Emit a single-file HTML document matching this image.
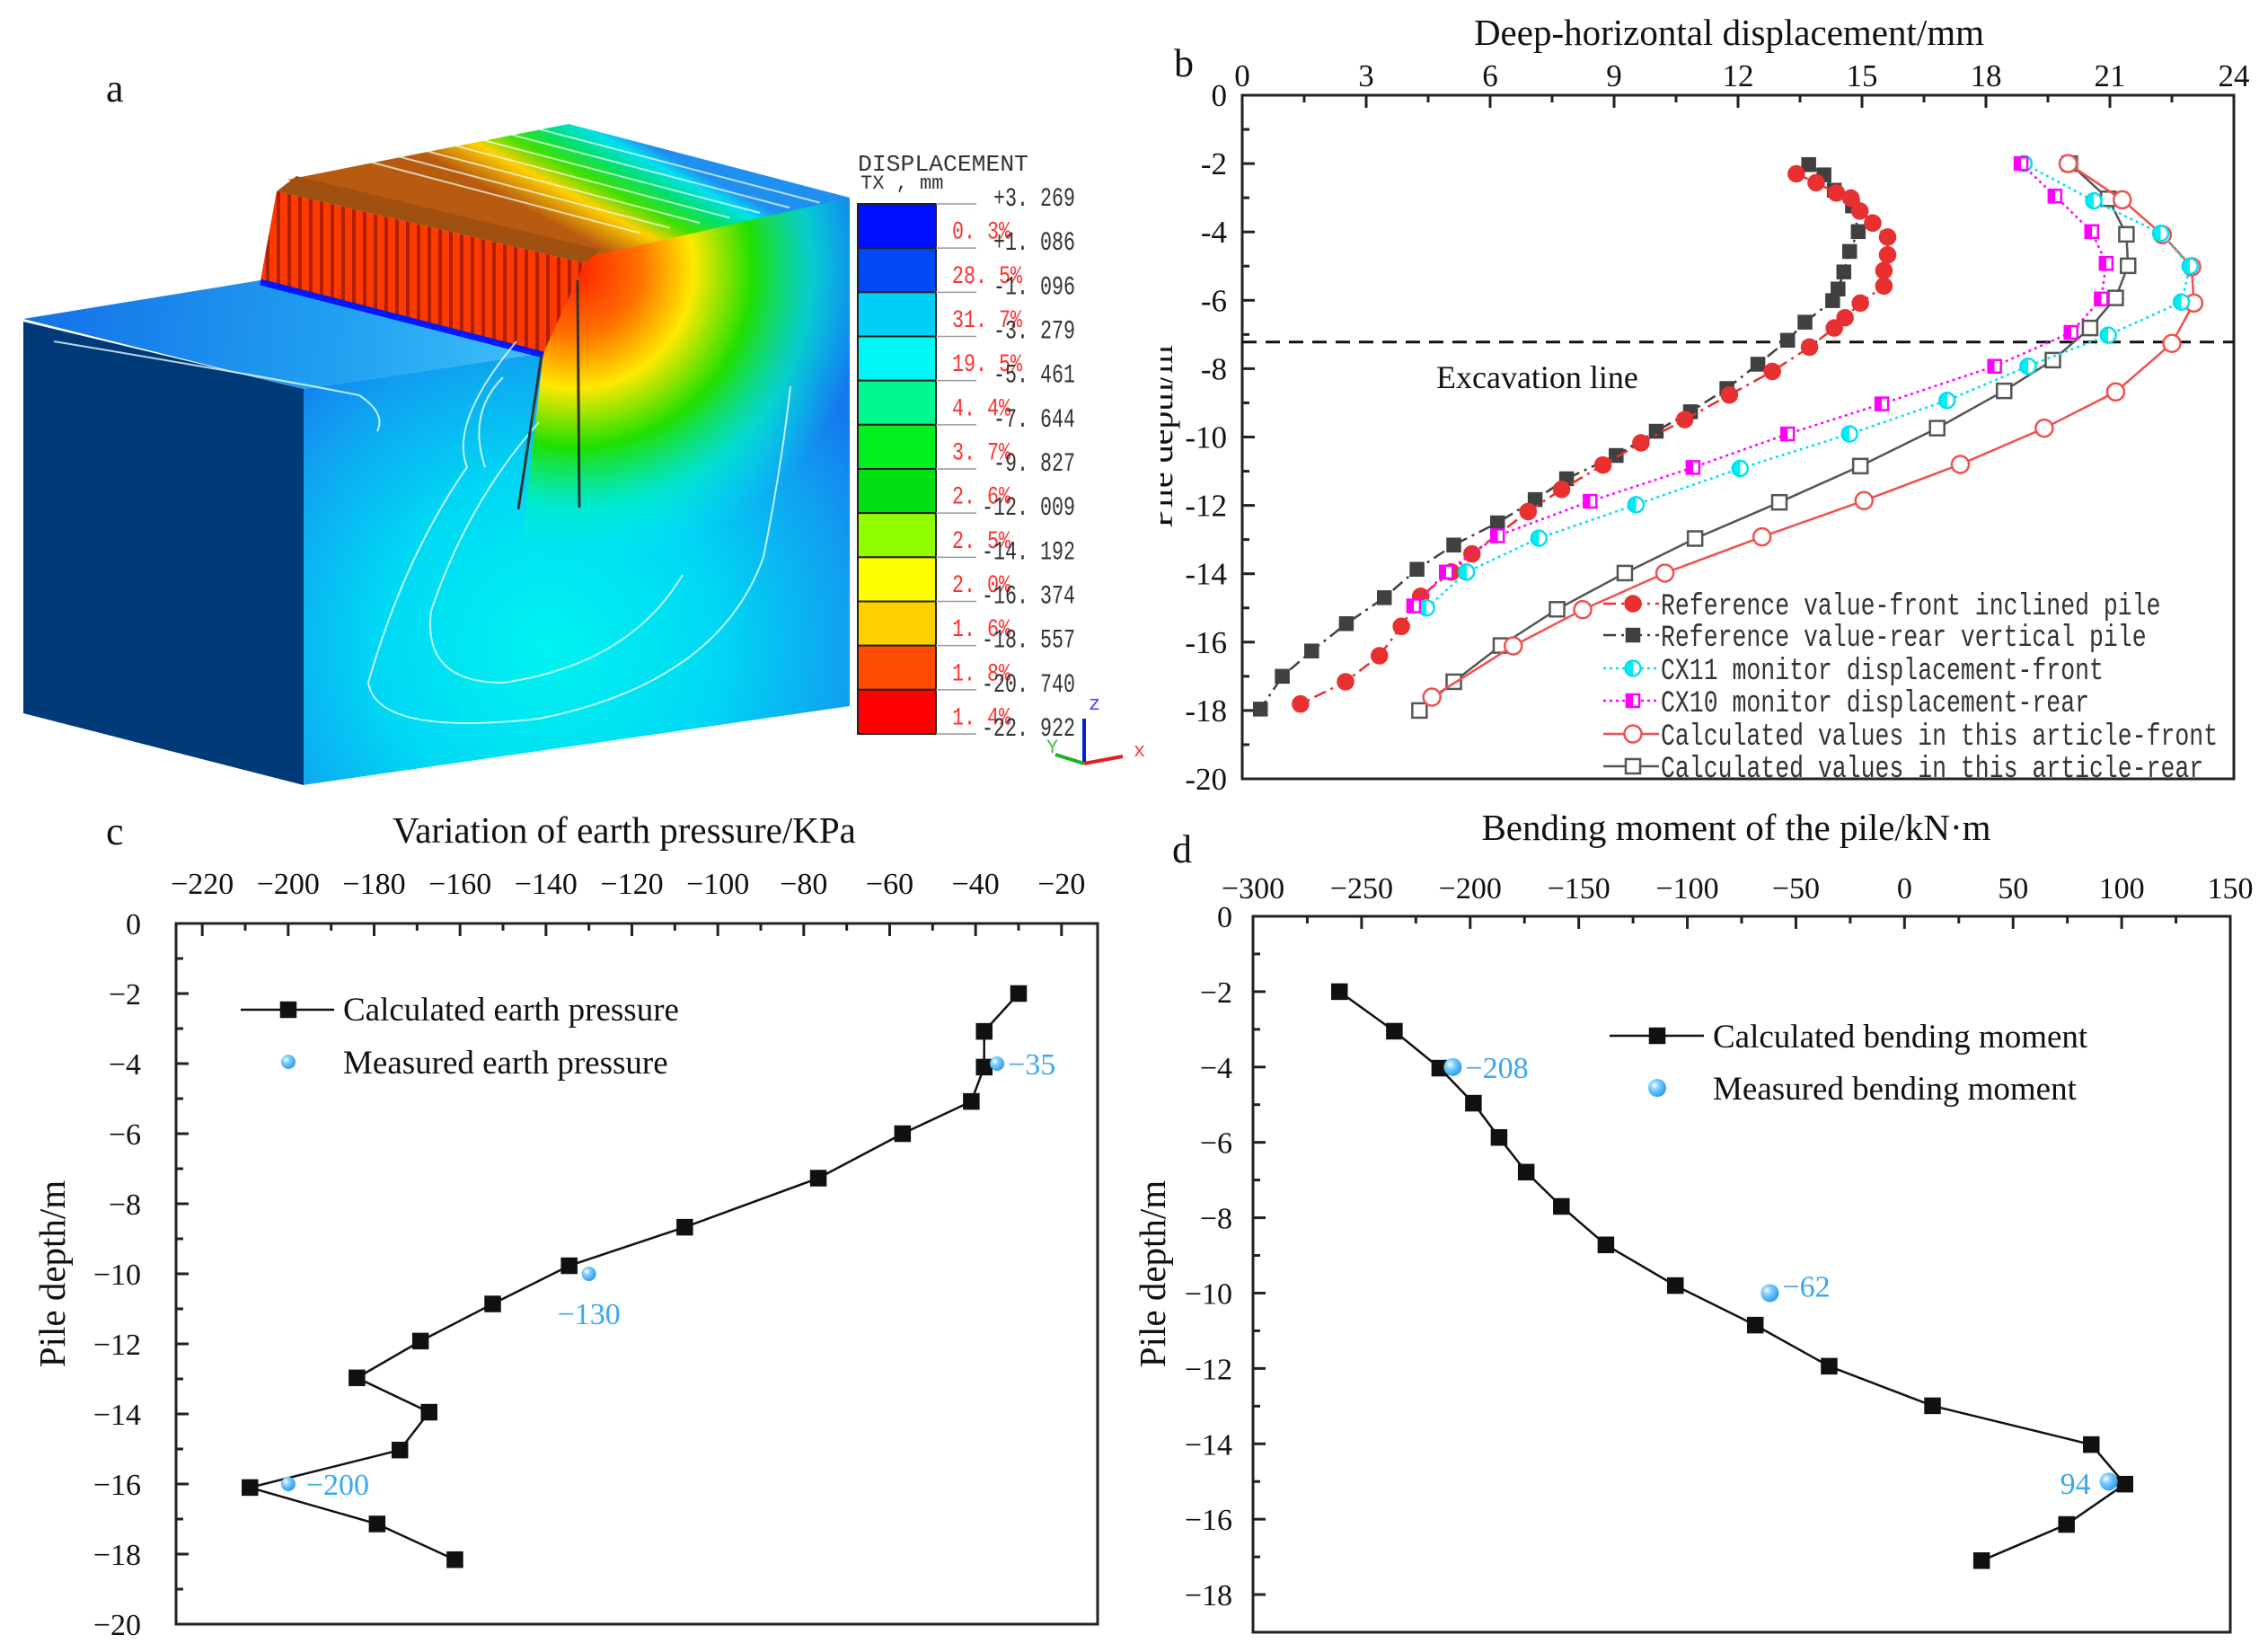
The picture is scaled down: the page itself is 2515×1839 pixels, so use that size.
<!DOCTYPE html>
<html><head><meta charset="utf-8">
<style>
html,body{margin:0;padding:0;background:#fff;}
svg{display:block;}
.serif{font-family:"Liberation Serif",serif;}
.mono{font-family:"Liberation Mono",monospace;}
</style></head>
<body>
<svg id="fig" width="2515" height="1839" viewBox="0 0 2515 1839" xmlns="http://www.w3.org/2000/svg">
<defs>
 <radialGradient id="frontGrad" cx="610" cy="720" r="420" gradientUnits="userSpaceOnUse">
  <stop offset="0" stop-color="#00f4f0"/><stop offset="0.45" stop-color="#00d8f4"/><stop offset="0.8" stop-color="#10a0f0"/><stop offset="1" stop-color="#1478ee"/>
 </radialGradient>
 <linearGradient id="topGrad" x1="640" y1="262" x2="700" y2="150" gradientUnits="userSpaceOnUse">
  <stop offset="0" stop-color="#b85a10"/><stop offset="0.3" stop-color="#ffd000"/><stop offset="0.5" stop-color="#40e000"/><stop offset="0.7" stop-color="#00e070"/><stop offset="0.88" stop-color="#00e0f0"/><stop offset="1" stop-color="#2090f0"/>
 </linearGradient>
 <linearGradient id="lowGrad" x1="26" y1="355" x2="605" y2="393" gradientUnits="userSpaceOnUse">
  <stop offset="0" stop-color="#1470e8"/><stop offset="0.6" stop-color="#20a0f0"/><stop offset="1" stop-color="#40c0f8"/>
 </linearGradient>
 <radialGradient id="blob" cx="640" cy="300" r="330" gradientUnits="userSpaceOnUse">
  <stop offset="0" stop-color="#ff2000"/><stop offset="0.22" stop-color="#ff7000"/><stop offset="0.4" stop-color="#ffe800"/><stop offset="0.6" stop-color="#20e000"/><stop offset="0.8" stop-color="#00f0c0" stop-opacity="0.7"/><stop offset="1" stop-color="#00f0f0" stop-opacity="0"/>
 </radialGradient>
 <clipPath id="frontClip"><polygon points="605,393 651,293 679,265 946,220 946,786 560,786"/></clipPath>
 <pattern id="piles" width="12" height="40" patternUnits="userSpaceOnUse">
  <rect width="12" height="40" fill="#ff3a00"/><rect x="8" width="4" height="40" fill="#b02000"/>
 </pattern>
 <radialGradient id="sphere" cx="0.35" cy="0.35" r="0.7">
  <stop offset="0" stop-color="#ffffff"/><stop offset="0.35" stop-color="#7fd0ff"/><stop offset="1" stop-color="#2a9ae8"/>
 </radialGradient>
 <linearGradient id="halfC" x1="0" x2="1" y1="0" y2="0"><stop offset="0.5" stop-color="#00f0f0"/><stop offset="0.5" stop-color="#ffffff"/></linearGradient>
 <linearGradient id="halfM" x1="0" x2="1" y1="0" y2="0"><stop offset="0.5" stop-color="#ff00ff"/><stop offset="0.5" stop-color="#ffffff"/></linearGradient>
</defs>
<g id="panelA"></g>
<g id="panelB"></g>
<g id="panelC"></g>
<g id="panelD"></g>
</svg>
<script>
// ---------- Panel b data ----------
const bRefFrontX = [13.41,13.89,14.38,14.73,14.95,15.26,15.62,15.62,15.53,15.53,14.96,14.59,14.33,13.73,12.83,11.79,10.71,9.65,8.73,7.73,6.92,5.56,5.06,4.32,3.85,3.32,2.50,1.41];
const bRefFrontY = [-2.30,-2.56,-2.86,-3.01,-3.39,-3.74,-4.15,-4.67,-5.13,-5.58,-6.08,-6.51,-6.81,-7.37,-8.08,-8.77,-9.49,-10.17,-10.82,-11.53,-12.18,-13.42,-13.95,-14.66,-15.54,-16.40,-17.16,-17.81];
const bRefRearX = [13.71,14.08,14.33,14.77,14.91,14.70,14.56,14.42,14.29,13.62,13.20,12.48,11.73,10.85,10.02,9.05,7.85,7.09,6.18,5.12,4.23,3.44,2.52,1.68,0.97,0.44];
const bRefRearY = [-2.03,-2.33,-2.78,-3.24,-3.99,-4.57,-5.17,-5.67,-6.01,-6.64,-7.17,-7.87,-8.58,-9.26,-9.83,-10.54,-11.22,-11.83,-12.51,-13.16,-13.87,-14.70,-15.46,-16.26,-17.00,-17.96];
const bCx11X = [18.92,20.61,22.23,22.94,22.73,20.96,19.02,17.06,14.70,12.05,9.53,7.18,5.43,4.46];
const bCx11Y = [-2.0,-3.09,-4.04,-5.0,-6.05,-7.02,-7.93,-8.93,-9.91,-10.92,-11.98,-12.96,-13.95,-15.0];
const bCx10X = [18.85,19.67,20.56,20.91,20.79,20.06,18.21,15.48,13.20,10.91,8.42,6.18,4.94,4.15];
const bCx10Y = [-2.0,-2.95,-3.99,-4.92,-5.96,-6.94,-7.93,-9.03,-9.91,-10.89,-11.88,-12.89,-13.95,-14.94];
const bCalcFrontX = [19.99,21.30,22.27,22.98,23.03,22.50,21.14,19.41,17.38,15.05,12.58,10.23,8.24,6.56,4.59];
const bCalcFrontY = [-2.0,-3.06,-4.08,-5.02,-6.08,-7.26,-8.68,-9.74,-10.80,-11.86,-12.92,-13.98,-15.05,-16.11,-17.61];
const bCalcRearX = [20.03,20.96,21.40,21.44,21.14,20.52,19.62,18.44,16.82,14.96,13.00,10.96,9.26,7.62,6.26,5.12,4.29];
const bCalcRearY = [-2.0,-3.03,-4.07,-4.99,-5.93,-6.81,-7.75,-8.65,-9.74,-10.85,-11.91,-12.97,-13.98,-15.04,-16.10,-17.16,-18.0];
const bExcavation = -7.22;
const bXTicks = [0,3,6,9,12,15,18,21,24];
const bYTicks = [0,-2,-4,-6,-8,-10,-12,-14,-16,-18,-20];
const bLegendLabels = ["Reference value-front inclined pile","Reference value-rear vertical pile","CX11 monitor displacement-front","CX10 monitor displacement-rear","Calculated values in this article-front","Calculated values in this article-rear"];
// ---------- Panel c data ----------
const cCalcX = [-30,-38,-38,-41,-57,-76.6,-107.7,-134.6,-152.4,-169.2,-184,-167.2,-174,-208.9,-179.3,-161.2];
const cCalcY = [-2,-3.08,-4.1,-5.08,-6.0,-7.27,-8.67,-9.77,-10.86,-11.92,-12.97,-13.95,-15.03,-16.1,-17.14,-18.16];
const cMeasX = [-35,-130,-200];
const cMeasY = [-4,-10,-16];
const cMeasLabels = ["\u221235","\u2212130","\u2212200"];
const cXTicks = [-220,-200,-180,-160,-140,-120,-100,-80,-60,-40,-20];
const cYTicks = [0,-2,-4,-6,-8,-10,-12,-14,-16,-18,-20];
// ---------- Panel d data ----------
const dCalcX = [-260.2,-234.9,-214,-198.5,-186.7,-174.2,-158,-137.5,-105.5,-68.7,-34.7,12.9,86,101.5,74.6,35.5];
const dCalcY = [-2,-3.05,-4.03,-4.96,-5.87,-6.79,-7.7,-8.72,-9.8,-10.85,-11.94,-12.99,-14.02,-15.07,-16.14,-17.1];
const dMeasX = [-208,-62,94];
const dMeasY = [-4,-10,-15];
const dMeasLabels = ["\u2212208","\u221262","94"];
const dXTicks = [-300,-250,-200,-150,-100,-50,0,50,100,150];
const dYTicks = [0,-2,-4,-6,-8,-10,-12,-14,-16,-18];
// ---------- Panel a legend data ----------
const aBandColors = ["#0010ff","#0048f4","#00d0f8","#00f8f4","#00f890","#00f020","#00e010","#90ff00","#ffff00","#ffd000","#ff4c00","#ff0000"];
const aBoundLabels = ["+3. 269","+1. 086","-1. 096","-3. 279","-5. 461","-7. 644","-9. 827","-12. 009","-14. 192","-16. 374","-18. 557","-20. 740","-22. 922"];
const aPercents = ["0. 3%","28. 5%","31. 7%","19. 5%","4. 4%","3. 7%","2. 6%","2. 5%","2. 0%","1. 6%","1. 8%","1. 4%"];

const NS = "http://www.w3.org/2000/svg";
function mk(tag, attrs, parent, text){
  const e = document.createElementNS(NS, tag);
  for (const k in attrs) e.setAttribute(k, attrs[k]);
  if (text !== undefined) e.textContent = text;
  parent.appendChild(e);
  return e;
}
function fmt(v){ return v < 0 ? "\u2212" + Math.abs(v) : String(v); }

function axes(g, o){
  const sx = v => o.L + (v - o.x0) / (o.x1 - o.x0) * (o.R - o.L);
  const sy = v => o.T + (o.y0 - v) / (o.y0 - o.y1) * (o.B - o.T);
  const frame = mk('rect', {x:o.L, y:o.T, width:o.R-o.L, height:o.B-o.T, fill:'none', stroke:'#222', 'stroke-width':3}, g);
  
  
  o.xTicks.forEach((t, i) => {
    const x = sx(t);
    const tk = mk('line', {x1:x, x2:x, y1:o.T, y2:o.T+14, stroke:'#222', 'stroke-width':3}, g);
    
    
    if (i < o.xTicks.length - 1) {
      const m = (t + o.xTicks[i+1]) / 2;
      if (m < o.x1) {
        const mt = mk('line', {x1:sx(m), x2:sx(m), y1:o.T, y2:o.T+8, stroke:'#222', 'stroke-width':3}, g);
        
        
      }
    }
    const lb = mk('text', {x:x, y:o.xLabY, 'text-anchor':'middle', 'font-size':o.fs, class:'serif', fill:'#111'}, g, o.hyphen ? String(t) : fmt(t));
    
    
  });
  o.yTicks.forEach((t, i) => {
    const y = sy(t);
    const tk = mk('line', {x1:o.L, x2:o.L+14, y1:y, y2:y, stroke:'#222', 'stroke-width':3}, g);
    
    
    const m = t - (o.yTicks[0] - o.yTicks[1]) / 2;
    if (m > o.y1) {
      const mt = mk('line', {x1:o.L, x2:o.L+8, y1:sy(m), y2:sy(m), stroke:'#222', 'stroke-width':3}, g);
      
      
    }
    const lb = mk('text', {x:o.yLabX, y:y+12, 'text-anchor':'end', 'font-size':o.fs, class:'serif', fill:'#111'}, g, o.hyphen ? String(t) : fmt(t));
    
    
  });
  return {sx, sy};
}

function polyline(g, xs, ys, sx, sy, attrs, name){
  const pts = xs.map((x, i) => sx(x).toFixed(1) + ',' + sy(ys[i]).toFixed(1)).join(' ');
  const a = Object.assign({points:pts, fill:'none'}, attrs);
  const p = mk('polyline', a, g);
  
  
  return p;
}
function marker(g, type, x, y, s, fill, stroke, name){
  let e;
  if (type === 'circle') e = mk('circle', {cx:x, cy:y, r:s, fill:fill, stroke:stroke, 'stroke-width':2.5}, g);
  else e = mk('rect', {x:x-s, y:y-s, width:2*s, height:2*s, fill:fill, stroke:stroke, 'stroke-width':2.5}, g);
  
  
  return e;
}

// ================= Panel a =================
(function(){
  const g = document.getElementById('panelA');
  const lab = mk('text', {x:118, y:113, 'font-size':44, class:'serif', fill:'#111'}, g, 'a');
  
  
  const front = mk('polygon', {points:'338,433 605,393 651,293 679,265 946,220 946,786 337,874', fill:'url(#frontGrad)'}, g);
  
  
  const bl = mk('rect', {x:540, y:200, width:420, height:600, fill:'url(#blob)', 'clip-path':'url(#frontClip)'}, g);
  
  
  const top = mk('polygon', {points:'320,200 633,138 946,220 660,285', fill:'url(#topGrad)'}, g);
  
  
  for (let k = 1; k <= 7; k++) {
    const f = k / 8;
    const x1 = 364 + (633-364)*f, y1 = 182 + (138-182)*f;
    const x2 = 679 + (946-679)*f, y2 = 265 + (220-265)*f;
    const cl = mk('line', {x1:x1, y1:y1, x2:x2, y2:y2, stroke:'#f0fff0', 'stroke-width':2, opacity:0.7}, g);
    
    
  }
  const cap = mk('polygon', {points:'308,213 330,196 668,278 651,293', fill:'#a05010'}, g);
  
  
  const piles = mk('polygon', {points:'308,213 651,293 605,393 290,312', fill:'url(#piles)'}, g);
  
  
  const low = mk('polygon', {points:'26,355 290,312 605,393 338,433', fill:'url(#lowGrad)'}, g);
  
  
  const edge = mk('line', {x1:290, y1:314, x2:605, y2:395, stroke:'#0018ff', 'stroke-width':7}, g);
  
  
  const dark = mk('polygon', {points:'26,358 338,433 338,874 26,794', fill:'#003a78'}, g);
  
  
  const cont = ['M575,380 Q500,470 520,520 Q450,620 410,760 Q420,820 600,800 Q800,760 850,620 Q870,520 880,430',
                'M600,470 Q520,560 480,680 Q470,760 560,760 Q700,740 760,640',
                'M560,420 Q520,460 540,520',
                'M60,380 Q300,420 400,440 Q430,460 420,480'];
  cont.forEach(d => {
    const c = mk('path', {d:d, fill:'none', stroke:'#e8ffff', 'stroke-width':2, opacity:0.8}, g);
    
    
  });
  const p1 = mk('line', {x1:603, y1:395, x2:577, y2:567, stroke:'#333', 'stroke-width':3}, g);
  
  
  const p2 = mk('line', {x1:643, y1:312, x2:645, y2:565, stroke:'#333', 'stroke-width':3}, g);
  
  
  const h1 = mk('text', {x:955, y:190, 'font-size':26, class:'mono', fill:'#333', textLength:190, lengthAdjust:'spacingAndGlyphs'}, g, 'DISPLACEMENT');
  
  
  const h2 = mk('text', {x:958, y:210, 'font-size':22, class:'mono', fill:'#333'}, g, 'TX ,  mm');
  
  
  const y0 = 227, bh = (817 - 227) / 12;
  aBandColors.forEach((c, i) => {
    const r = mk('rect', {x:955, y:y0+i*bh, width:87, height:bh, fill:c, stroke:'#222', 'stroke-width':2}, g);
    
    
    const pt = mk('text', {x:1060, y:y0+i*bh+bh/2+14, 'font-size':28, class:'mono', fill:'#ff3030', textLength:aPercents[i].length*13, lengthAdjust:'spacingAndGlyphs'}, g, aPercents[i]);
    
    
  });
  aBoundLabels.forEach((s, i) => {
    const y = y0 + i*bh;
    const ln = mk('line', {x1:1042, x2:1087, y1:y, y2:y, stroke:'#999', 'stroke-width':1.5}, g);
    
    
    const t = mk('text', {x:1197, y:y+2, 'text-anchor':'end', 'font-size':30, class:'mono', fill:'#333', textLength:s.length*13, lengthAdjust:'spacingAndGlyphs'}, g, s);
    
    
  });
  const tz = mk('line', {x1:1207, y1:850, x2:1207, y2:800, stroke:'#0020d0', 'stroke-width':4}, g);
  
  
  const tx = mk('line', {x1:1207, y1:850, x2:1250, y2:842, stroke:'#e02020', 'stroke-width':4}, g);
  
  
  const ty = mk('line', {x1:1207, y1:850, x2:1175, y2:840, stroke:'#20b020', 'stroke-width':4}, g);
  
  
  [['z',1212,790,'#4040ff'],['x',1262,842,'#ff4040'],['Y',1165,838,'#40c040']].forEach(a => {
    const t = mk('text', {x:a[1], y:a[2], 'font-size':22, class:'mono', fill:a[3]}, g, a[0]);
    
    
  });
})();

// ================= Panel b =================
(function(){
  const g = document.getElementById('panelB');
  const o = {L:1383, R:2487, T:106, B:867, x0:0, x1:24, y0:0, y1:-20, xTicks:bXTicks, yTicks:bYTicks, fs:35, xLabY:96, yLabX:1366, hyphen:true};
  const ylab = mk('text', {x:0, y:0, 'font-size':40, class:'serif', fill:'#111', 'text-anchor':'middle', transform:'translate(1305,486) rotate(-90)'}, g, 'Pile depth/m');
  
  
  const cover = mk('rect', {x:1240, y:300, width:52, height:400, fill:'#fff'}, g);
  
  
  const {sx, sy} = axes(g, o);
  const title = mk('text', {x:1925, y:50, 'text-anchor':'middle', 'font-size':41, class:'serif', fill:'#111'}, g, 'Deep-horizontal displacement/mm');
  
  
  const lab = mk('text', {x:1307, y:85, 'font-size':44, class:'serif', fill:'#111'}, g, 'b');
  
  
  const ex = mk('line', {x1:o.L, x2:o.R, y1:sy(bExcavation), y2:sy(bExcavation), stroke:'#111', 'stroke-width':3, 'stroke-dasharray':'16,10'}, g);
  
  
  const ext = mk('text', {x:1599, y:432, 'font-size':36, class:'serif', fill:'#111'}, g, 'Excavation line');
  
  
  const series = [
    {xs:bRefRearX, ys:bRefRearY, color:'#404040', dash:'14,6,3,6', m:'rect', fill:'#404040', s:7, name:'ref-rear'},
    {xs:bRefFrontX, ys:bRefFrontY, color:'#e83030', dash:'14,6,3,6', m:'circle', fill:'#e83030', s:8.5, name:'ref-front'},
    {xs:bCalcRearX, ys:bCalcRearY, color:'#555', dash:'', m:'rect', fill:'#fff', s:8, name:'calc-rear'},
    {xs:bCalcFrontX, ys:bCalcFrontY, color:'#f05050', dash:'', m:'circle', fill:'#fff', s:9.5, name:'calc-front'},
    {xs:bCx11X, ys:bCx11Y, color:'#00e0f0', dash:'3,4', m:'circle', fill:'url(#halfC)', s:8.5, name:'cx11'},
    {xs:bCx10X, ys:bCx10Y, color:'#ff00ff', dash:'3,4', m:'rect', fill:'url(#halfM)', s:7, name:'cx10'}
  ];
  series.forEach(S => {
    const at = {stroke:S.color, 'stroke-width':2.5};
    if (S.dash) at['stroke-dasharray'] = S.dash;
    polyline(g, S.xs, S.ys, sx, sy, at, 'line-' + S.name);
    S.xs.forEach((x, i) => marker(g, S.m, sx(x), sy(S.ys[i]), S.s, S.fill, S.color, 'point-' + S.name));
  });
  const order = [1,0,4,5,3,2];
  const rows = [672,707,744,780,817,853];
  order.forEach((si, k) => {
    const S = series[si], y = rows[k];
    const at = {x1:1785, x2:1847, y1:y, y2:y, stroke:S.color, 'stroke-width':2.5};
    if (S.dash) at['stroke-dasharray'] = S.dash;
    const l = mk('line', at, g);
    
    
    marker(g, S.m, 1818, y, S.s, S.fill, S.color, 'legend-marker');
    const t = mk('text', {x:1849, y:y+12, 'font-size':34, class:'mono', fill:'#333', textLength:bLegendLabels[k].length*15.9, lengthAdjust:'spacingAndGlyphs'}, g, bLegendLabels[k]);
    
    
  });
})();

// ================= Panel c =================
(function(){
  const g = document.getElementById('panelC');
  const o = {L:196, R:1222, T:1028, B:1808, x0:-226.1, x1:-11.6, y0:0, y1:-20, xTicks:cXTicks, yTicks:cYTicks, fs:34, xLabY:995, yLabX:157};
  const {sx, sy} = axes(g, o);
  const title = mk('text', {x:695, y:938, 'text-anchor':'middle', 'font-size':41, class:'serif', fill:'#111'}, g, 'Variation of earth pressure/KPa');
  
  
  const lab = mk('text', {x:118, y:940, 'font-size':44, class:'serif', fill:'#111'}, g, 'c');
  
  
  const ylab = mk('text', {x:0, y:0, 'font-size':41, class:'serif', fill:'#111', 'text-anchor':'middle', transform:'translate(72,1418) rotate(-90)'}, g, 'Pile depth/m');
  
  
  polyline(g, cCalcX, cCalcY, sx, sy, {stroke:'#111', 'stroke-width':2.5}, 'calculated-earth-pressure-line');
  cCalcX.forEach((x, i) => marker(g, 'rect', sx(x), sy(cCalcY[i]), 8, '#111', '#111', 'calculated-earth-pressure-point'));
  cMeasX.forEach((x, i) => {
    const c = mk('circle', {cx:sx(x), cy:sy(cMeasY[i]), r:8, fill:'url(#sphere)'}, g);
    
    
  });
  const offs = [[12,12,'start'],[0,56,'middle'],[20,12,'start']];
  cMeasX.forEach((x, i) => {
    const t = mk('text', {x:sx(x)+offs[i][0], y:sy(cMeasY[i])+offs[i][1], 'text-anchor':offs[i][2], 'font-size':34, class:'serif', fill:'#3aa8f0'}, g, cMeasLabels[i]);
    
    
  });
  const l = mk('line', {x1:268, x2:372, y1:1124, y2:1124, stroke:'#111', 'stroke-width':2.5}, g);
  
  
  marker(g, 'rect', 321, 1124, 8, '#111', '#111', 'legend-marker');
  const s = mk('circle', {cx:321, cy:1182, r:8, fill:'url(#sphere)'}, g);
  
  
  [['Calculated earth pressure',1136],['Measured earth pressure',1195]].forEach(a => {
    const t = mk('text', {x:382, y:a[1], 'font-size':37, class:'serif', fill:'#111'}, g, a[0]);
    
    
  });
})();

// ================= Panel d =================
(function(){
  const g = document.getElementById('panelD');
  const o = {L:1395, R:2483, T:1020, B:1817, x0:-300, x1:150, y0:0, y1:-19, xTicks:dXTicks, yTicks:dYTicks, fs:34, xLabY:1000, yLabX:1372};
  const {sx, sy} = axes(g, o);
  const title = mk('text', {x:1933, y:935, 'text-anchor':'middle', 'font-size':41, class:'serif', fill:'#111'}, g, 'Bending moment of the pile/kN\u00b7m');
  
  
  const lab = mk('text', {x:1305, y:960, 'font-size':44, class:'serif', fill:'#111'}, g, 'd');
  
  
  const ylab = mk('text', {x:0, y:0, 'font-size':41, class:'serif', fill:'#111', 'text-anchor':'middle', transform:'translate(1297,1418) rotate(-90)'}, g, 'Pile depth/m');
  
  
  polyline(g, dCalcX, dCalcY, sx, sy, {stroke:'#111', 'stroke-width':2.5}, 'calculated-bending-moment-line');
  dCalcX.forEach((x, i) => marker(g, 'rect', sx(x), sy(dCalcY[i]), 8, '#111', '#111', 'calculated-bending-moment-point'));
  dMeasX.forEach((x, i) => {
    const c = mk('circle', {cx:sx(x), cy:sy(dMeasY[i]), r:10, fill:'url(#sphere)'}, g);
    
    
  });
  const offs = [[14,12,'start'],[14,4,'start'],[-20,14,'end']];
  dMeasX.forEach((x, i) => {
    const t = mk('text', {x:sx(x)+offs[i][0], y:sy(dMeasY[i])+offs[i][1], 'text-anchor':offs[i][2], 'font-size':34, class:'serif', fill:'#3aa8f0'}, g, dMeasLabels[i]);
    
    
  });
  const l = mk('line', {x1:1792, x2:1897, y1:1153, y2:1153, stroke:'#111', 'stroke-width':2.5}, g);
  
  
  marker(g, 'rect', 1845, 1153, 8, '#111', '#111', 'legend-marker');
  const s = mk('circle', {cx:1845, cy:1211, r:10, fill:'url(#sphere)'}, g);
  
  
  [['Calculated bending moment',1166],['Measured bending moment',1224]].forEach(a => {
    const t = mk('text', {x:1907, y:a[1], 'font-size':37, class:'serif', fill:'#111'}, g, a[0]);
    
    
  });
})();
</script>
</body></html>
